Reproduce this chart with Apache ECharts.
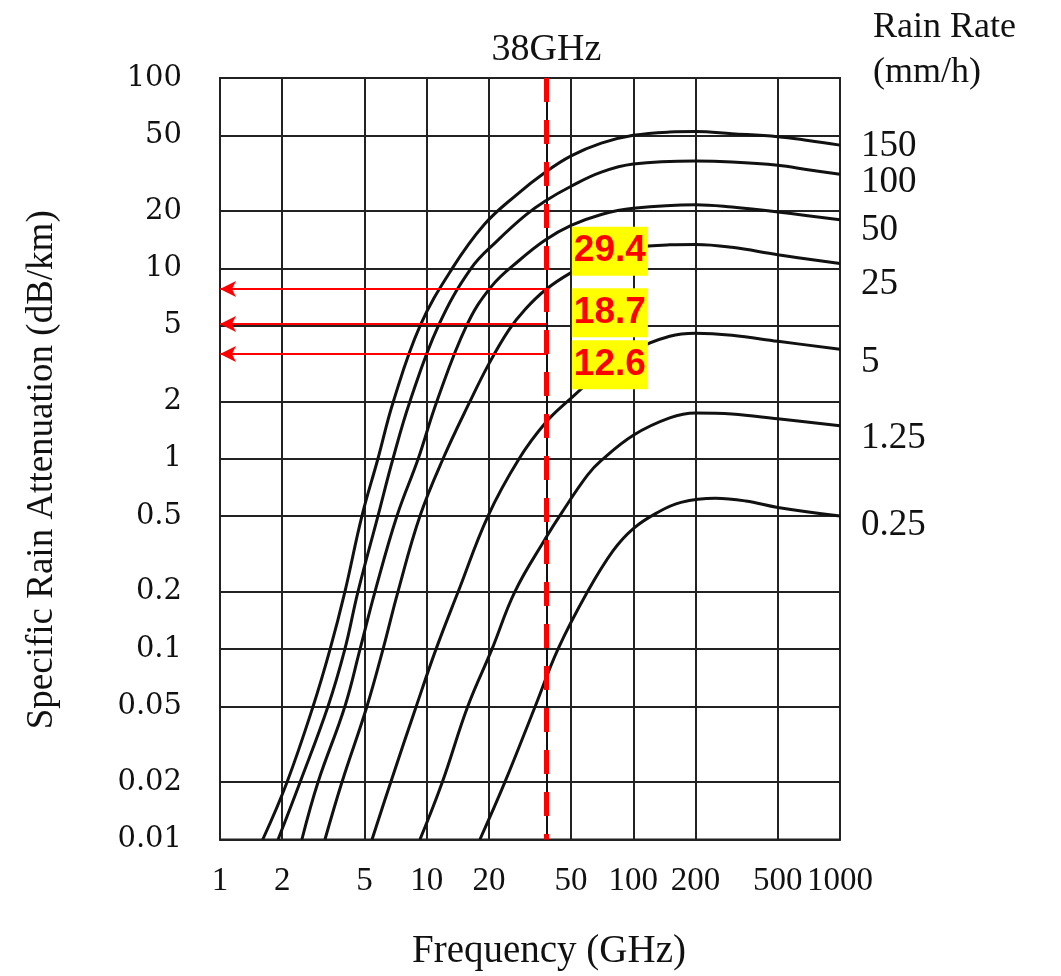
<!DOCTYPE html>
<html>
<head>
<meta charset="utf-8">
<title>Specific Rain Attenuation</title>
<script src="https://cdn.jsdelivr.net/npm/echarts@6/dist/echarts.min.js"></script>
<style>
  html, body { margin: 0; padding: 0; background: #fff; }
  #chart { width: 1061px; height: 976px; }
</style>
</head>
<body>
<div id="chart"></div>
<script>
// curves, points are [frequency GHz, attenuation dB/km]
const rainRates = ['150', '100', '50', '25', '5', '1.25', '0.25']
const rain150 = [[1.61, 0.01], [2.11, 0.02], [2.82, 0.05], [3.41, 0.1], [4.02, 0.2], [4.86, 0.5], [5.81, 1], [6.9, 2], [9.3, 5], [13.3, 10], [19, 17], [27.4, 24.5], [37.5, 32], [50, 39], [70, 45.5], [100, 50], [150, 52], [200, 52.3], [300, 51], [500, 49.2], [700, 47], [1000, 44.4]]
const rain100 = [[1.91, 0.01], [2.44, 0.02], [3.33, 0.05], [4.02, 0.1], [4.65, 0.2], [5.81, 0.5], [6.87, 1], [8.3, 2], [11.4, 5], [16.4, 10], [22, 14], [30, 19], [37.5, 22.6], [50, 27], [70, 32], [100, 35.3], [200, 36.6], [300, 36.2], [500, 34.8], [700, 33], [1000, 31.2]]
const rain50 = [[2.49, 0.01], [2.98, 0.02], [4.02, 0.05], [4.76, 0.1], [5.62, 0.2], [7.18, 0.5], [9.1, 1], [11.2, 2], [15.6, 5], [20.5, 8], [28, 11], [37.5, 14.1], [50, 16.8], [70, 19.2], [100, 20.7], [200, 21.6], [300, 21], [500, 19.8], [1000, 18]]
const rain25 = [[3.22, 0.01], [3.89, 0.02], [5.14, 0.05], [6.15, 0.1], [7.26, 0.2], [9.28, 0.5], [12, 1], [16.2, 2], [20, 3.15], [25, 4.75], [30, 6.1], [37.5, 7.7], [50, 9.5], [70, 11.4], [100, 12.8], [150, 13.3], [200, 13.35], [300, 12.9], [500, 11.8], [1000, 10.6]]
const rain5 = [[5.44, 0.01], [6.7, 0.02], [8.9, 0.05], [11.1, 0.1], [14.2, 0.2], [19.8, 0.5], [28, 1], [37.5, 1.54], [48, 2], [70, 2.85], [100, 3.7], [150, 4.4], [200, 4.56], [300, 4.45], [500, 4.14], [1000, 3.76]]
const rain1p25 = [[9.28, 0.01], [11.9, 0.02], [15.8, 0.05], [20.7, 0.1], [26.7, 0.2], [37.5, 0.38], [45, 0.52], [60, 0.82], [70, 0.98], [100, 1.33], [150, 1.64], [200, 1.74], [300, 1.72], [500, 1.62], [1000, 1.49]]
const rain0p25 = [[18.1, 0.01], [23.9, 0.02], [33.5, 0.05], [43.2, 0.1], [60, 0.2], [80, 0.33], [100, 0.43], [130, 0.52], [170, 0.59], [250, 0.62], [350, 0.6], [500, 0.555], [1000, 0.5]]
const curves = [rain150, rain100, rain50, rain25, rain5, rain1p25, rain0p25]

const freqTicks = [1, 2, 5, 10, 20, 50, 100, 200, 500, 1000]
const attTicks = [0.01, 0.02, 0.05, 0.1, 0.2, 0.5, 1, 2, 5, 10, 20, 50, 100]

const markFreq = 38
const arrowLevels = [7.8, 5.1, 3.55]
const noteTexts = ['29.4', '18.7', '12.6']
const notePoints = [[77, 12.3], [77, 5.85], [77, 3.12]]

// vertical nudge of each rain-rate label at the right end
const endLabelDy = [1, 8, 11, 21, 13, 13, 9]

const serif = 'Liberation Serif'
const chart = echarts.init(document.getElementById('chart'))

const series = curves.map(function (data, i) {
  return {
    name: rainRates[i],
    type: 'line',
    data: data,
    showSymbol: false,
    smooth: 0.4,
    silent: true,
    lineStyle: { color: '#111', width: 3 },
    endLabel: {
      show: true,
      formatter: '{a}',
      distance: 21,
      offset: [0, endLabelDy[i]],
      color: '#111',
      fontFamily: serif,
      fontSize: 37
    }
  }
})

// 38 GHz marker, arrows and the yellow notes hang on the first curve
series[0].markLine = {
  silent: true,
  symbol: 'none',
  data: [
    {
      xAxis: markFreq,
      lineStyle: { color: '#111', width: 2, type: 'solid' },
      label: {
        show: true,
        position: 'end',
        formatter: markFreq + 'GHz',
        distance: 9,
        color: '#111',
        fontFamily: serif,
        fontSize: 38
      }
    },
    // drawn top-down so the dashes start at the frame top
    [
      { coord: [markFreq, 100] },
      {
        coord: [markFreq, 0.01],
        lineStyle: { color: '#ff0000', width: 5, type: [24, 18] },
        label: { show: false }
      }
    ]
  ].concat(arrowLevels.map(function (v) {
    return [
      { coord: [markFreq, v], symbol: 'none' },
      {
        coord: [1, v],
        symbol: 'arrow',
        symbolSize: [12, 16],
        lineStyle: { color: '#ff0000', width: 2, type: 'solid' },
        label: { show: false }
      }
    ]
  }))
}

series[0].markPoint = {
  silent: true,
  symbol: 'rect',
  symbolSize: 1,
  itemStyle: { color: 'rgba(0,0,0,0)' },
  label: {
    show: true,
    position: 'inside',
    formatter: '{b}',
    color: '#ff0000',
    backgroundColor: '#ffff00',
    fontFamily: 'Liberation Sans',
    fontWeight: 'bold',
    fontSize: 37,
    lineHeight: 42,
    padding: [4, 2, 3, 2]
  },
  data: notePoints.map(function (p, i) {
    return { name: noteTexts[i], coord: p }
  })
}

chart.setOption({
  animation: false,
  backgroundColor: '#fff',
  title: {
    text: 'Rain Rate\n(mm/h)',
    left: 868,
    top: 0,
    textStyle: {
      color: '#111',
      fontFamily: serif,
      fontWeight: 'normal',
      fontSize: 36,
      lineHeight: 45
    }
  },
  grid: {
    left: 220,
    right: 221,
    top: 78,
    bottom: 125,
    show: true,
    borderColor: '#222',
    borderWidth: 2
  },
  xAxis: {
    type: 'log',
    logBase: 10,
    min: 1,
    max: 1000,
    name: 'Frequency (GHz)',
    nameLocation: 'middle',
    nameGap: 112,
    nameTextStyle: { color: '#111', fontFamily: serif, fontSize: 39, verticalAlign: 'middle', padding: [0, 0, 0, 38] },
    axisLine: { show: true, lineStyle: { color: '#222', width: 2 } },
    axisTick: { show: false, customValues: freqTicks },
    splitLine: { show: true, lineStyle: { color: '#222', width: 2 } },
    axisLabel: {
      customValues: freqTicks,
      formatter: function (v) { return String(v) },
      margin: 25,
      color: '#111',
      fontFamily: serif,
      fontSize: 33
    }
  },
  yAxis: {
    type: 'log',
    logBase: 10,
    min: 0.01,
    max: 100,
    name: 'Specific Rain Attenuation (dB/km)',
    nameLocation: 'middle',
    nameRotate: 90,
    nameGap: 178,
    nameTextStyle: { color: '#111', fontFamily: serif, fontSize: 37, verticalAlign: 'middle', padding: [0, 22, 0, 0] },
    axisLine: { show: true, lineStyle: { color: '#222', width: 2 } },
    axisTick: { show: false, customValues: attTicks },
    splitLine: { show: true, lineStyle: { color: '#222', width: 2 } },
    axisLabel: {
      customValues: attTicks,
      formatter: function (v) { return String(v) },
      margin: 38,
      color: '#111',
      fontFamily: 'DejaVu Serif',
      fontSize: 29
    }
  },
  series: series
})
</script>
</body>
</html>
